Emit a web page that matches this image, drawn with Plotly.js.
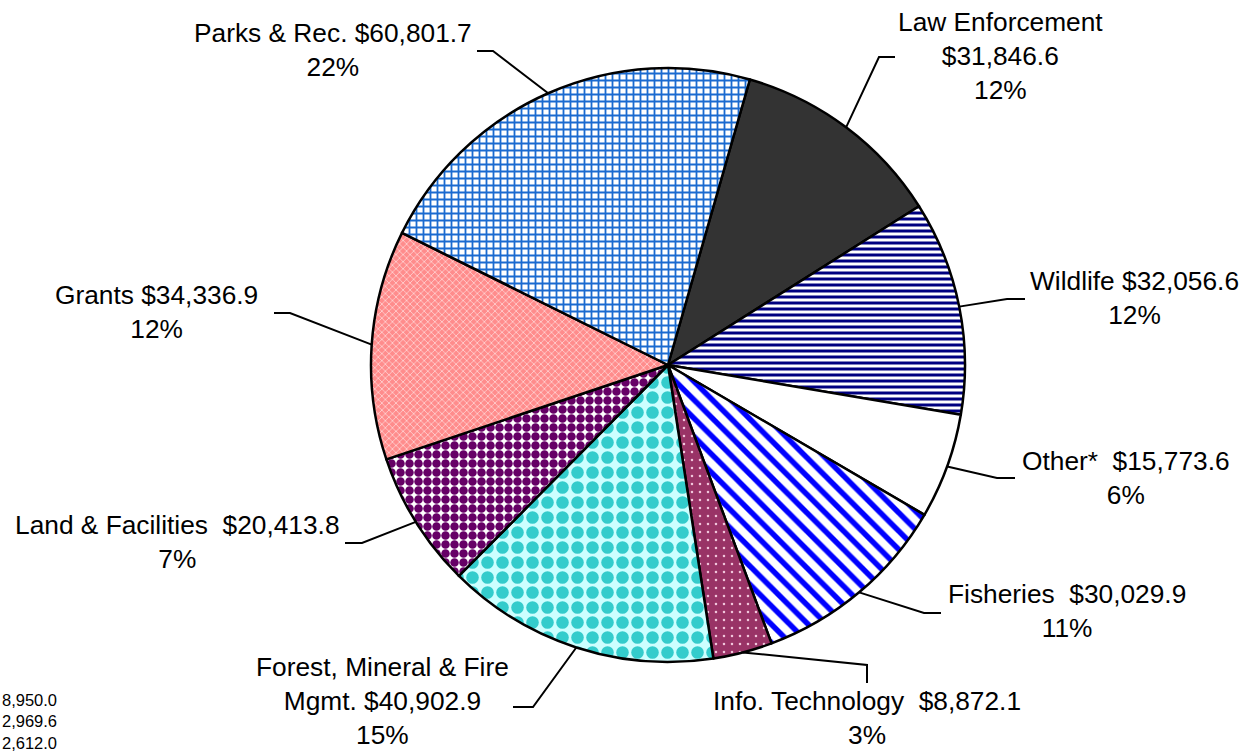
<!DOCTYPE html>
<html>
<head>
<meta charset="utf-8">
<script src="https://cdn.plot.ly/plotly-3.0.1.min.js"></script>
<style>
  body { margin: 0; background: #fff; }
  #chart { width: 1245px; height: 752px; }
</style>
</head>
<body>
<div id="chart"></div>
<script>
// slices, clockwise from Law Enforcement
var names = ['Law Enforcement', 'Wildlife', 'Other*', 'Fisheries', 'Info. Technology',
             'Forest, Mineral & Fire<br>Mgmt.', 'Land & Facilities', 'Grants', 'Parks & Rec.'];
var values = [31846.6, 32056.6, 15773.6, 30029.9, 8872.1, 40902.9, 20413.8, 34336.9, 60801.7];
var nameSep = ['<br>', ' ', '\u00a0 ', '\u00a0 ', '\u00a0 ', ' ', '\u00a0 ', ' ', ' '];

// tail of a table that is cut off on the bottom left
var tableTail = ['8,950.0', '2,969.6', '2,612.0'];

var W = 1245, H = 752;
var cx = 668, cy = 365, R = 297, rot = 16;
function px(x) { return x / W; }
function py(y) { return 1 - y / H; }

var total = values.reduce(function (a, b) { return a + b; }, 0);

//label boxes (center x, middle y) and leader elbows, in pixels
var labelPos = [[1000, 56], [1134, 298], [1126, 478], [1067, 611], [867, 718],
                [382, 701], [177, 542], [156, 312], [333, 50]];
var elbows = [
    [[879, 57], [895, 57]],
    [[1007, 299], [1025, 299]],
    [[997, 478], [1015, 478]],
    [[924, 613], [941, 613]],
    [[867, 665], [867, 683]],
    [[533, 707], [513, 707]],
    [[362, 543], [345, 543]],
    [[290, 313], [274, 313]],
    [[493, 51], [477, 51]]
];

var annotations = [];
var shapes = [];
var cum = 0;
values.forEach(function (v, i) {
    var mid = (rot + (cum + v / 2) / total * 360) * Math.PI / 180;
    cum += v;
    var ex = cx + R * Math.sin(mid), ey = cy - R * Math.cos(mid);
    var money = '$' + v.toLocaleString('en-US', {minimumFractionDigits: 1, maximumFractionDigits: 1});
    var pct = Math.round(v / total * 100) + '%';
    annotations.push({
        xref: 'paper', yref: 'paper',
        x: px(labelPos[i][0]), y: py(labelPos[i][1]),
        xanchor: 'center', yanchor: 'middle', align: 'center',
        showarrow: false,
        text: names[i] + nameSep[i] + money + '<br>' + pct,
        font: {family: 'Liberation Sans, Arial, sans-serif', size: 26.3, color: '#000'}
    });
    var e = elbows[i];
    shapes.push({
        type: 'path', xref: 'paper', yref: 'paper',
        path: 'M' + px(ex) + ',' + py(ey) + ' L' + px(e[0][0]) + ',' + py(e[0][1]) +
              ' L' + px(e[1][0]) + ',' + py(e[1][1]),
        line: {color: '#000', width: 2}
    });
});

annotations.push({
    xref: 'paper', yref: 'paper', x: 0, y: py(721),
    xanchor: 'left', yanchor: 'middle', align: 'right', showarrow: false,
    text: tableTail.join('<br>'),
    font: {family: 'Liberation Sans, Arial, sans-serif', size: 16.5, color: '#000'}
});

var trace = {
    type: 'pie',
    labels: names,
    values: values,
    sort: false,
    direction: 'clockwise',
    rotation: rot,
    textinfo: 'none',
    hoverinfo: 'label+value+percent',
    domain: {x: [px(cx - R), px(cx + R)], y: [py(cy + R), py(cy - R)]},
    marker: {
        colors: ['#333333', '#ffffff', '#ffffff', '#ffffff', '#993366',
                 '#ccffff', '#ffffff', '#ff8c8c', '#ffffff'],
        line: {color: '#000', width: 2.5},
        pattern: {
            shape: ['', '-', '', '\\', '.', '.', '.', 'x', '+'],
            fgcolor: ['#333333', '#000080', '#ffffff', '#0000ff', '#f2c6dc',
                      '#33cccc', '#660066', '#ffd2d2', '#1a6ad0'],
            bgcolor: ['#333333', '#ffffff', '#ffffff', '#ffffff', '#993366',
                      '#ccffff', '#ffffff', '#ff8c8c', '#ffffff'],
            size: [8, 6, 8, 13, 8, 15, 9, 5, 7],
            solidity: [0.3, 0.5, 0.3, 0.42, 0.08, 0.55, 0.7, 0.3, 0.45]
        }
    }
};

var layout = {
    width: W,
    height: H,
    margin: {l: 0, r: 0, t: 0, b: 0},
    showlegend: false,
    paper_bgcolor: '#fff',
    annotations: annotations,
    shapes: shapes
};

Plotly.newPlot('chart', [trace], layout, {staticPlot: true});
</script>
</body>
</html>
